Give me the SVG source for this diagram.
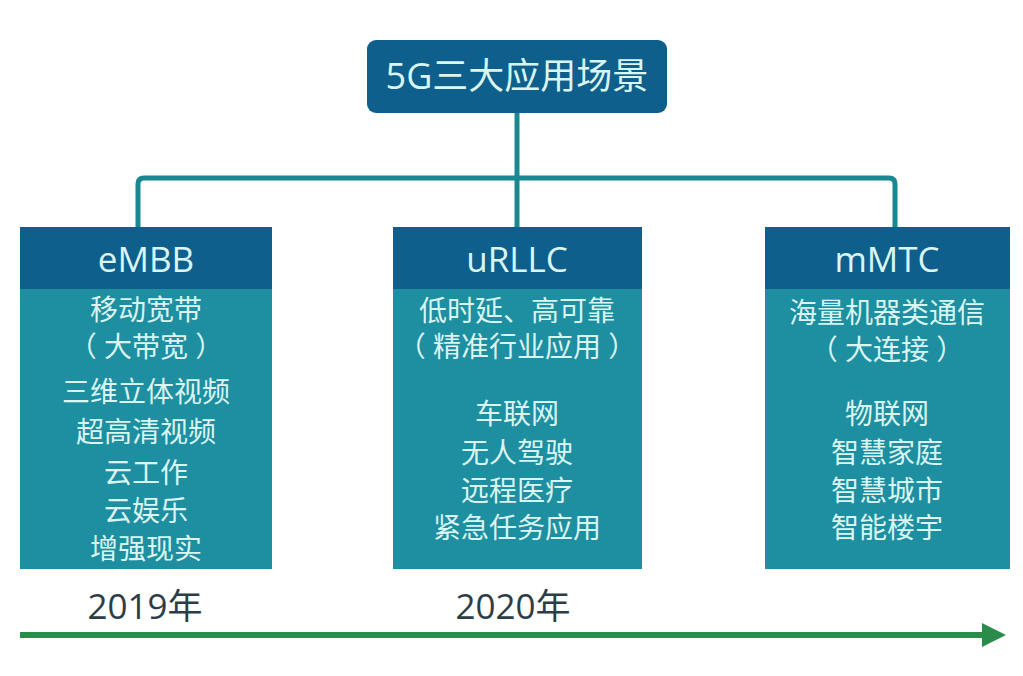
<svg xmlns="http://www.w3.org/2000/svg" width="1023" height="676" viewBox="0 0 1023 676">
<style>
.hdr{fill:#0f5f8d}
.body{fill:#1e8ea1}
.t{font-family:"Open Sans","Noto Sans CJK SC",sans-serif;fill:#d9f6f3;text-anchor:middle}
.h{font-size:35px}
.b{font-size:28px}
.yr{font-family:"Open Sans","Noto Sans CJK SC",sans-serif;fill:#2d3c46;font-size:35px;text-anchor:middle}
.conn{fill:none;stroke:#1a8792;stroke-width:5;stroke-linejoin:round}
</style>
<defs>
<marker id="ah" markerWidth="4" markerHeight="4" refX="1" refY="2" orient="auto" markerUnits="strokeWidth">
<path d="M0,0 L4,2 L0,4 Z" fill="#2a8b4b"/>
</marker>
</defs>
<rect width="1023" height="676" fill="#ffffff"/>
<g id="connectors">
<path class="conn" d="M517,113 V178"/>
<path class="conn" d="M138,228 V184 Q138,178 144,178 H889 Q895,178 895,184 V228"/>
<path class="conn" d="M517,178 V228"/>
<path d="M20,635 H988" stroke="#2a8b4b" stroke-width="6" fill="none" marker-end="url(#ah)"/>
</g>
<g id="top">
<rect x="367" y="40" width="300" height="73" rx="9" fill="#0f5f8d"/>
<text class="t" x="517" y="89" font-size="36">5G三大应用场景</text>
</g>
<g id="embb">
<rect class="hdr" x="20" y="227" width="252" height="62"/>
<rect class="body" x="20" y="289" width="252" height="280"/>
<text class="t h" x="146" y="272">eMBB</text>
<text class="t b" x="146" y="320">移动宽带</text>
<text class="t b" x="146" y="357">（ 大带宽 ）</text>
<text class="t b" x="146" y="402">三维立体视频</text>
<text class="t b" x="146" y="442">超高清视频</text>
<text class="t b" x="146" y="483">云工作</text>
<text class="t b" x="146" y="521">云娱乐</text>
<text class="t b" x="146" y="559">增强现实</text>
</g>
<g id="urllc">
<rect class="hdr" x="393" y="227" width="249" height="62"/>
<rect class="body" x="393" y="289" width="249" height="280"/>
<text class="t h" x="517" y="272">uRLLC</text>
<text class="t b" x="517" y="321">低时延、高可靠</text>
<text class="t b" x="517" y="357">（ 精准行业应用 ）</text>
<text class="t b" x="517" y="424">车联网</text>
<text class="t b" x="517" y="463">无人驾驶</text>
<text class="t b" x="517" y="501">远程医疗</text>
<text class="t b" x="517" y="538">紧急任务应用</text>
</g>
<g id="mmtc">
<rect class="hdr" x="765" y="227" width="245" height="62"/>
<rect class="body" x="765" y="289" width="245" height="280"/>
<text class="t h" x="887" y="272">mMTC</text>
<text class="t b" x="887" y="323">海量机器类通信</text>
<text class="t b" x="887" y="360">（ 大连接 ）</text>
<text class="t b" x="887" y="424">物联网</text>
<text class="t b" x="887" y="463">智慧家庭</text>
<text class="t b" x="887" y="501">智慧城市</text>
<text class="t b" x="887" y="538">智能楼宇</text>
</g>
<g id="years">
<text class="yr" x="145" y="619">2019年</text>
<text class="yr" x="513" y="619">2020年</text>
</g>
</svg>
